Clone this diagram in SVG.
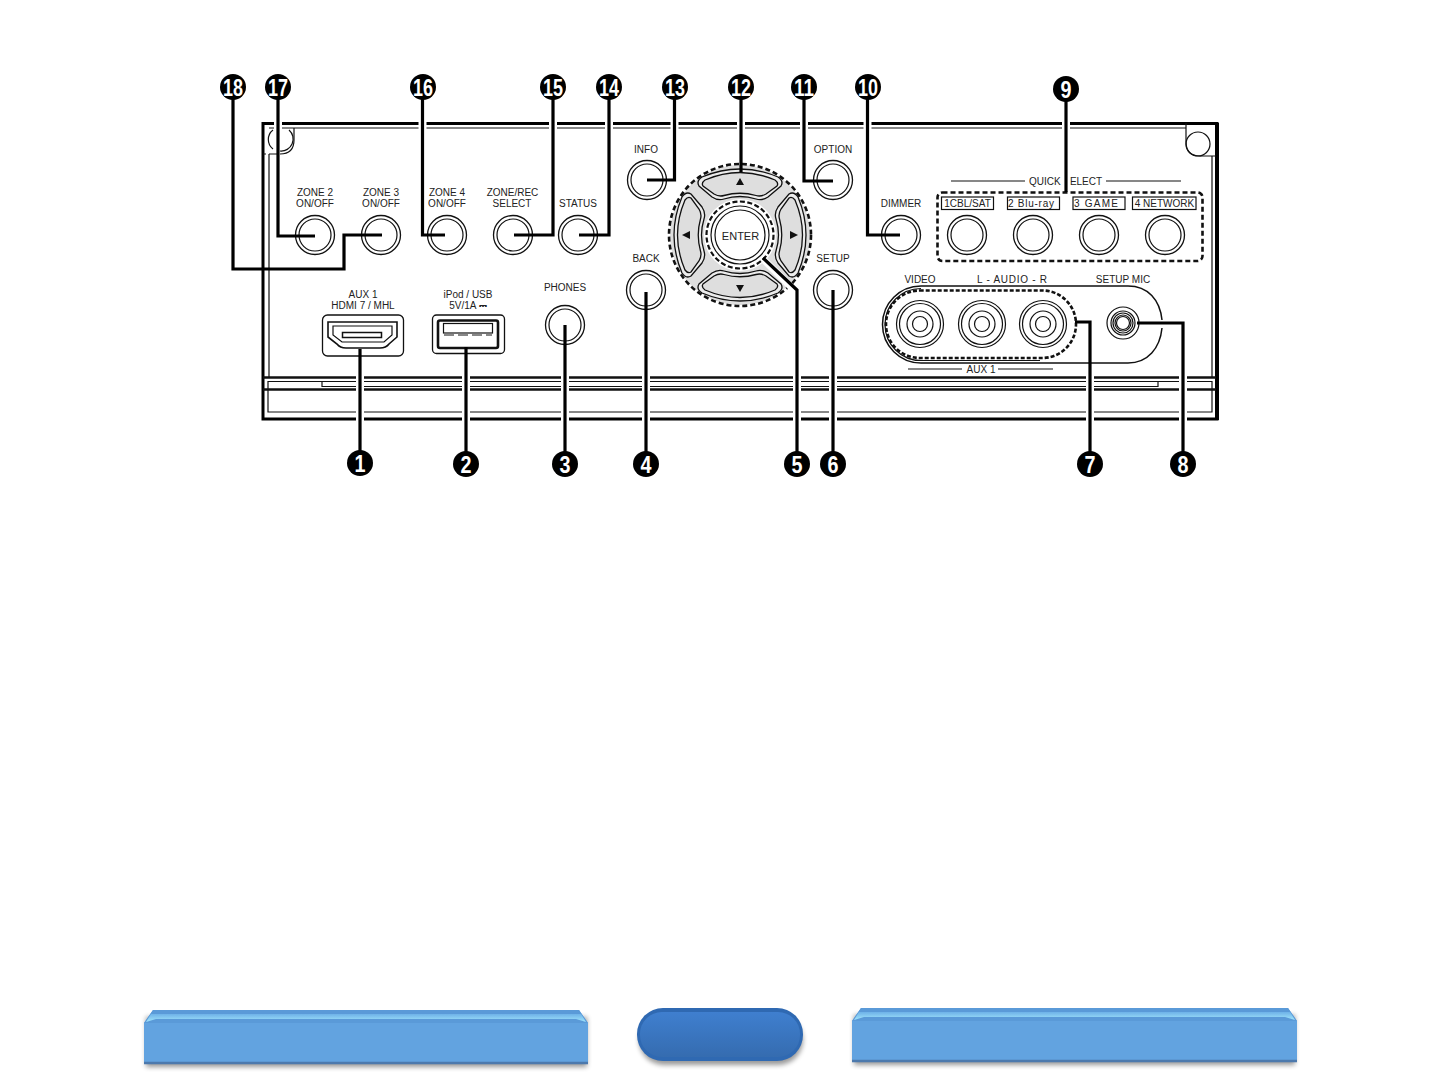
<svg xmlns="http://www.w3.org/2000/svg" width="1440" height="1080" viewBox="0 0 1440 1080">
<style>
.l{font-family:"Liberation Sans",Arial,sans-serif;font-size:10px;fill:#222;text-anchor:middle}
.n{font-family:"Liberation Sans",sans-serif;font-weight:700;fill:#fff;text-anchor:middle;font-size:24px}
.t{fill:none;stroke:#111;stroke-width:1.2}
.p{fill:none;stroke:#111;stroke-width:2.4}
.o{fill:none;stroke:#000;stroke-width:3}
.r{fill:#fff;stroke:#111;stroke-width:1.3}
.d{fill:none;stroke:#111;stroke-width:2.6;stroke-dasharray:5 3}
.c{fill:none;stroke:#000;stroke-width:3.2;stroke-linejoin:miter}
.h{fill:none;stroke:#fff;stroke-width:8}
.g{fill:#dedede;stroke:#111;stroke-width:1.3}
.w{fill:#ececec;stroke:#111;stroke-width:1.3}
</style>
<defs>
<filter id="s" x="-5%" y="-30%" width="110%" height="170%"><feGaussianBlur stdDeviation="2.5"/></filter>
<linearGradient id="mid" x1="0" y1="0" x2="0" y2="1"><stop offset="0" stop-color="#3f7fcf"/><stop offset="1" stop-color="#356cb0"/></linearGradient>
<linearGradient id="top" x1="0" y1="0" x2="0" y2="1"><stop offset="0" stop-color="#6eb2e8"/><stop offset="1" stop-color="#a0e4fb"/></linearGradient>
<g id="btn"><circle r="19.5" class="r"/><circle r="16" class="t"/></g>
<g id="rca"><circle r="23.5" class="t"/><circle r="20.5" class="t"/><circle r="13" class="t"/><circle r="7.5" class="t"/></g>
<g id="pt">
<path class="w" d="M-38,-58 Q0,-74 38,-58 Q44,-54 41,-49 L28,-38 Q22,-34 16,-36 Q0,-41 -16,-36 Q-22,-34 -28,-38 L-41,-49 Q-44,-54 -38,-58 Z"/>
<path class="g" d="M-35,-55 Q0,-70 35,-55 Q39,-52 37,-49 L26,-41 Q21,-38 16,-39.500 Q0,-44 -16,-39.500 Q-21,-38 -26,-41 L-37,-49 Q-39,-52 -35,-55 Z"/>
</g>
</defs>
<rect width="1440" height="1080" fill="#fff"/>

<g id="panel">
<path class="o" d="M263,381 V123.500 H1217 V419 H263 V378"/>
<path class="o" style="stroke-width:4" d="M1217,123 V420"/>
<path class="t" d="M269,154 V377 M269,128 H1186"/>
<path class="t" d="M263,154 H266 M269,154 H279"/>
<path class="t" d="M294,128 V140 Q294,154 280,154"/>
<path class="t" d="M289,130 A12,12 0 0 1 280,151 M273,130 A12,12 0 0 0 273,149"/>
<path class="t" d="M1186,123 V142 Q1186,156 1200,156 H1216 M1212,156 V377"/>
<circle cx="1198" cy="144" r="12" class="t"/>
<path class="p" d="M263,377.500 H1216"/>
<path class="t" d="M268,381.500 H1212 M322,381.500 V386.500 H1158 V381.500"/>
<path class="p" d="M263,389.500 H1216"/>
<path class="t" d="M268,381 V412 H1212 V381"/>
</g>

<g id="btn-zone2"><use href="#btn" x="315" y="235"/><text class="l" x="315" y="195.500">ZONE 2</text><text class="l" x="315" y="207">ON/OFF</text></g>
<g id="btn-zone3"><use href="#btn" x="381" y="235"/><text class="l" x="381" y="195.500">ZONE 3</text><text class="l" x="381" y="207">ON/OFF</text></g>
<g id="btn-zone4"><use href="#btn" x="447" y="235"/><text class="l" x="447" y="195.500">ZONE 4</text><text class="l" x="447" y="207">ON/OFF</text></g>
<g id="btn-zonerec"><use href="#btn" x="513" y="235"/><text class="l" x="512.500" y="195.500">ZONE/REC</text><text class="l" x="512" y="207">SELECT</text></g>
<g id="btn-status"><use href="#btn" x="578" y="235"/><text class="l" x="578" y="207">STATUS</text></g>
<g id="btn-info"><use href="#btn" x="647" y="180"/><text class="l" x="646" y="152.500">INFO</text></g>
<g id="btn-back"><use href="#btn" x="646" y="290"/><text class="l" x="646" y="262">BACK</text></g>
<g id="btn-option"><use href="#btn" x="833" y="180"/><text class="l" x="833" y="152.500">OPTION</text></g>
<g id="btn-setup"><use href="#btn" x="833" y="290"/><text class="l" x="833" y="262">SETUP</text></g>
<g id="btn-dimmer"><use href="#btn" x="901" y="235"/><text class="l" x="901" y="207">DIMMER</text></g>
<g id="btn-phones"><use href="#btn" x="565" y="325"/><text class="l" x="565" y="290.500">PHONES</text></g>

<g id="dpad">
<circle cx="740" cy="235" r="70" fill="#dedede"/>
<circle cx="740" cy="235" r="71" class="d"/>
<g transform="translate(740,235)">
<use href="#pt"/>
<use href="#pt" transform="rotate(90)"/>
<use href="#pt" transform="rotate(180)"/>
<use href="#pt" transform="rotate(270)"/>
<circle r="36" fill="#fff"/>
<circle r="33.500" fill="none" stroke="#111" stroke-width="2.200" stroke-dasharray="5 2.500"/>
<circle r="29" class="t"/><circle r="25" class="t"/>
</g>
<path fill="#111" d="M740,178 L744,185 H736 Z M740,292 L744,285 H736 Z M682,235 L690,231 V239 Z M798,235 L790,231 V239 Z"/>
<text class="l" x="740.500" y="239.500" style="font-size:11px">ENTER</text>
</g>

<g id="quick-select">
<path class="t" d="M951,181 H1025 M1106,181 H1181"/>
<text class="l" x="1065.500" y="185" textLength="73">QUICK SELECT</text>
<rect x="937.500" y="192.500" width="265" height="68.500" rx="5" class="d"/>
<g id="qs1"><rect x="941.500" y="197" width="52" height="12.500" class="t"/><text class="l" x="967.500" y="207">1CBL/SAT</text><use href="#btn" x="967" y="235"/></g>
<g id="qs2"><rect x="1007.500" y="197" width="52" height="12.500" class="t"/><text class="l" x="1031" y="207" textLength="46">2  Blu-ray</text><use href="#btn" x="1033" y="235"/></g>
<g id="qs3"><rect x="1073" y="197" width="52" height="12.500" class="t"/><text class="l" x="1096" y="207" textLength="44">3  GAME</text><use href="#btn" x="1099" y="235"/></g>
<g id="qs4"><rect x="1132.500" y="197" width="63.500" height="12.500" class="t"/><text class="l" x="1164.500" y="207">4 NETWORK</text><use href="#btn" x="1165" y="235"/></g>
</g>

<g id="aux-panel">
<path class="t" style="stroke-width:1.500" d="M1162,320 C1160,300 1148,286 1128,286 H921 A38.500,38.500 0 0 0 921,363 H1128 C1148,363 1160,348 1162,328"/>
<path class="t" d="M921,288.500 A36,36 0 0 0 921,360.500 H1040"/>
<rect x="886" y="290.500" width="190" height="67.500" rx="33.700" class="d" style="stroke-dasharray:4 2"/>
<use href="#rca" x="920" y="324"/><use href="#rca" x="982" y="324"/><use href="#rca" x="1043" y="324"/>
<text class="l" x="920" y="283">VIDEO</text>
<text class="l" x="1012" y="283" textLength="70">L -  AUDIO  - R</text>
<text class="l" x="1123" y="283">SETUP MIC</text>
<path class="t" d="M908,369 H962 M998,369 H1053"/>
<text class="l" x="981" y="373">AUX 1</text>
<g id="setup-mic"><circle cx="1123" cy="323" r="16" class="t"/><circle cx="1123" cy="323" r="12" class="t"/><circle cx="1123" cy="323" r="10" class="t"/><circle cx="1123" cy="323" r="8" class="t"/><circle cx="1123" cy="323" r="6.500" class="t"/></g>
</g>

<g id="hdmi">
<text class="l" x="363" y="298">AUX 1</text><text class="l" x="363" y="309">HDMI 7 / MHL</text>
<rect x="322.500" y="315" width="81" height="41" rx="5" fill="#fff" stroke="#111" stroke-width="1.300"/>
<path d="M328,322 H397 V337 L389,344 Q386,348 380,348 H346 Q340,348 337,344 L328,337 Z" fill="#fff" stroke="#111" stroke-width="1.600"/>
<path d="M333,326 H392 V335 L384,342 H342 L333,335 Z" class="t"/>
<rect x="342.500" y="332.500" width="39" height="5" class="t" style="stroke-width:1.500"/>
</g>
<g id="usb">
<text class="l" x="468" y="298">iPod / USB</text><text class="l" x="468" y="309">5V/1A ⎓</text>
<rect x="432.500" y="315" width="72" height="38.500" rx="4" fill="#fff" stroke="#111" stroke-width="1.300"/>
<rect x="438" y="320.500" width="60" height="27.500" rx="2" fill="#fff" stroke="#111" stroke-width="2.600"/>
<rect x="443.500" y="323.500" width="49" height="9.500" class="t"/>
<path d="M444,335 H492" fill="none" stroke="#111" stroke-width="1" stroke-dasharray="10 4"/>
</g>

<g id="connectors">
<path class="h" d="M233,119 V133 M278,119 V133 M422.500,119 V133 M553,119 V133 M609,119 V133 M674.500,119 V133 M741,119 V133 M804,119 V133 M867.500,119 V133 M1066,119 V133 M1066,174 V188"/>
<path class="h" d="M360,375 V424 M466,375 V424 M565,375 V424 M646,375 V424 M797,375 V424 M833,375 V424 M1090,375 V424 M1183,375 V424 M1158,324 H1168"/>
<path fill="none" stroke="#fff" stroke-width="7" d="M797,293 L764,260"/>
<path class="c" d="M233,87 V269 H344 V235 H382"/>
<path class="c" d="M278,87 V236 H315"/>
<path class="c" d="M422.500,87 V235 H445"/>
<path class="c" d="M553,87 V235 H514"/>
<path class="c" d="M609,87 V235 H579"/>
<path class="c" d="M674.500,87 V180 H647"/>
<path class="c" d="M741,87 V172"/>
<path class="c" d="M804,87 V181 H833"/>
<path class="c" d="M867.500,87 V235 H900"/>
<path class="c" d="M1066,89 V192"/>
<path class="c" d="M360,463 V349"/>
<path class="c" d="M466,464 V347"/>
<path class="c" d="M565,464 V325"/>
<path class="c" d="M646,464 V292"/>
<path class="c" d="M797,464 V290 L763,258"/>
<path class="c" d="M833,464 V290"/>
<path class="c" d="M1090,464 V322 H1075"/>
<path class="c" d="M1183,464 V323 H1137"/>
</g>

<g id="badge-18"><circle cx="233" cy="87" r="13"/><text class="n" x="233" y="95.500" textLength="20" lengthAdjust="spacingAndGlyphs">18</text></g>
<g id="badge-17"><circle cx="278" cy="87" r="13"/><text class="n" x="278" y="95.500" textLength="20" lengthAdjust="spacingAndGlyphs">17</text></g>
<g id="badge-16"><circle cx="423" cy="87" r="13"/><text class="n" x="423" y="95.500" textLength="20" lengthAdjust="spacingAndGlyphs">16</text></g>
<g id="badge-15"><circle cx="553" cy="87" r="13"/><text class="n" x="553" y="95.500" textLength="20" lengthAdjust="spacingAndGlyphs">15</text></g>
<g id="badge-14"><circle cx="609" cy="87" r="13"/><text class="n" x="609" y="95.500" textLength="20" lengthAdjust="spacingAndGlyphs">14</text></g>
<g id="badge-13"><circle cx="675" cy="87" r="13"/><text class="n" x="675" y="95.500" textLength="20" lengthAdjust="spacingAndGlyphs">13</text></g>
<g id="badge-12"><circle cx="741" cy="87" r="13"/><text class="n" x="741" y="95.500" textLength="20" lengthAdjust="spacingAndGlyphs">12</text></g>
<g id="badge-11"><circle cx="804" cy="87" r="13"/><text class="n" x="804" y="95.500" textLength="20" lengthAdjust="spacingAndGlyphs">11</text></g>
<g id="badge-10"><circle cx="868" cy="87" r="13"/><text class="n" x="868" y="95.500" textLength="20" lengthAdjust="spacingAndGlyphs">10</text></g>
<g id="badge-9"><circle cx="1066" cy="89" r="13"/><text class="n" x="1066" y="97.500" textLength="11" lengthAdjust="spacingAndGlyphs">9</text></g>
<g id="badge-1"><circle cx="360" cy="463" r="13"/><text class="n" x="360" y="471.500" textLength="11" lengthAdjust="spacingAndGlyphs">1</text></g>
<g id="badge-2"><circle cx="466" cy="464" r="13"/><text class="n" x="466" y="472.500" textLength="11" lengthAdjust="spacingAndGlyphs">2</text></g>
<g id="badge-3"><circle cx="565" cy="464" r="13"/><text class="n" x="565" y="472.500" textLength="11" lengthAdjust="spacingAndGlyphs">3</text></g>
<g id="badge-4"><circle cx="646" cy="464" r="13"/><text class="n" x="646" y="472.500" textLength="11" lengthAdjust="spacingAndGlyphs">4</text></g>
<g id="badge-5"><circle cx="797" cy="464" r="13"/><text class="n" x="797" y="472.500" textLength="11" lengthAdjust="spacingAndGlyphs">5</text></g>
<g id="badge-6"><circle cx="833" cy="464" r="13"/><text class="n" x="833" y="472.500" textLength="11" lengthAdjust="spacingAndGlyphs">6</text></g>
<g id="badge-7"><circle cx="1090" cy="464" r="13"/><text class="n" x="1090" y="472.500" textLength="11" lengthAdjust="spacingAndGlyphs">7</text></g>
<g id="badge-8"><circle cx="1183" cy="464" r="13"/><text class="n" x="1183" y="472.500" textLength="11" lengthAdjust="spacingAndGlyphs">8</text></g>

<g id="nav-left">
<rect x="146" y="1017" width="441" height="50" fill="#000" opacity=".4" filter="url(#s)"/>
<path fill="#62a3e0" d="M144,1023 L153,1010 H579 L588,1023 V1063 H144 Z"/>
<path fill="#5a9ad8" d="M144,1023 L153,1010 H579 L588,1023 Z"/>
<path fill="url(#top)" d="M151,1014 H581 L586,1022 L576,1019 H156 L146,1022 Z"/>
<path fill="none" stroke="#4c79ad" stroke-width="2.500" d="M144,1063 H588"/>
</g>
<g id="nav-home">
<rect x="639" y="1015" width="164" height="50" rx="25" fill="#000" opacity=".4" filter="url(#s)"/>
<rect x="637" y="1008" width="166" height="53" rx="26" fill="#2f69b2"/>
<rect x="640" y="1012" width="160" height="45" rx="22" fill="url(#mid)"/>
</g>
<g id="nav-right">
<rect x="854" y="1015" width="441" height="50" fill="#000" opacity=".4" filter="url(#s)"/>
<path fill="#62a3e0" d="M852,1021 L861,1008 H1288 L1297,1021 V1061 H852 Z"/>
<path fill="#5a9ad8" d="M852,1021 L861,1008 H1288 L1297,1021 Z"/>
<path fill="url(#top)" d="M859,1012 H1290 L1295,1020 L1285,1017 H864 L854,1020 Z"/>
<path fill="none" stroke="#4c79ad" stroke-width="2.500" d="M852,1061 H1297"/>
</g>
</svg>
